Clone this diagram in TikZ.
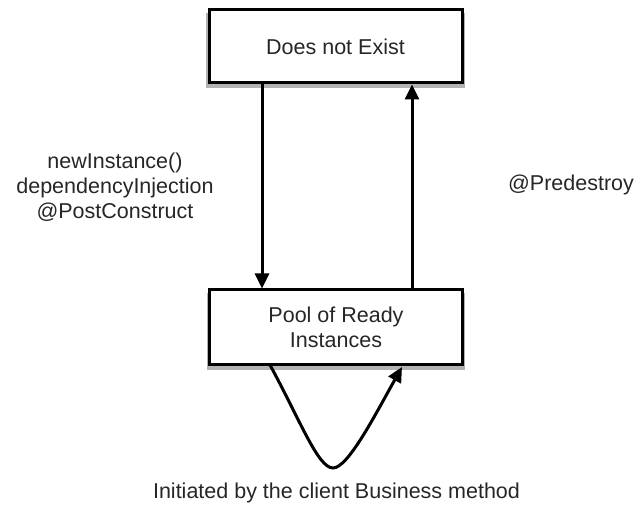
\documentclass[tikz,border=0pt]{standalone}
\usepackage{fontspec}
\setmainfont{Liberation Sans}
\usetikzlibrary{arrows.meta,shadows}
\begin{document}
\begin{tikzpicture}[x=1pt,y=1pt,
  txt/.style={font=\fontsize{21.5}{25}\selectfont, text=black!85},
  statebox/.style={draw=black, line width=3pt, fill=white, minimum width=253pt, txt, align=center,
    drop shadow={shadow xshift=0pt, shadow yshift=-4pt, shadow scale=1.02, fill=black, opacity=0.3}},
  arr/.style={line width=3pt, -{Triangle[length=15pt,width=14pt]}},
  lbl/.style={txt, align=center}]
\useasboundingbox (0,0) rectangle (635,506);
\node[statebox, minimum height=73pt] (top) at (335.5,459.5) {Does not Exist};
\node[statebox, minimum height=75pt] (pool) at (336,178.5) {Pool of Ready\\Instances};
\coordinate (dx) at (262,0);
\coordinate (ux) at (412,0);
\draw[arr] (top.south -| dx) -- (pool.north -| dx);
\draw[arr] (pool.north -| ux) -- (top.south -| ux);
\coordinate (ls) at (270,141);
\coordinate (lb) at (333,38);
\coordinate (le) at (402,139);
\draw[arr] (ls) .. controls (300,86) and (318,38) .. (lb) .. controls (348,38) and (375,91) .. (le);
\node[lbl] (create) at (115,319) {newInstance()\\dependencyInjection\\@PostConstruct};
\node[lbl] (destroy) at (571,321) {@Predestroy};
\node[lbl] (client) at (336.5,13) {Initiated by the client Business method};
\end{tikzpicture}
\end{document}
